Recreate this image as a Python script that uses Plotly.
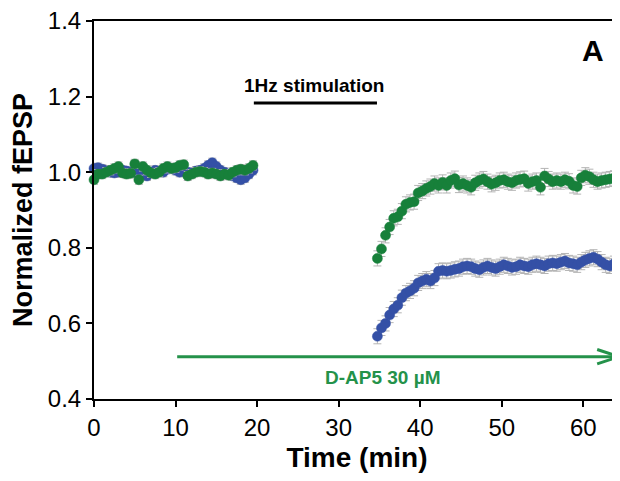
import plotly.graph_objects as go

# baseline (0-19.5 min, every 0.5 min)
t_base = [i * 0.5 for i in range(40)]
blue_base = [1.010, 1.012, 1.008, 1.005, 1.000, 0.998, 1.000, 1.005, 1.003, 1.000,
             0.998, 1.000, 0.995, 0.990, 1.000, 1.005, 1.002, 1.000, 1.008, 1.010,
             1.005, 1.000, 1.002, 1.000, 0.998, 1.003, 1.005, 1.010, 1.018, 1.025,
             1.015, 1.005, 1.000, 0.995, 0.990, 0.985, 0.980, 0.985, 0.995, 1.005]
green_base = [0.980, 0.995, 0.995, 1.000, 1.005, 1.010, 1.015, 0.998, 0.995, 0.997,
              1.022, 0.980, 1.015, 1.005, 0.998, 0.995, 1.000, 1.010, 1.015, 1.010,
              1.012, 1.018, 1.020, 0.990, 0.995, 1.000, 1.002, 1.000, 0.995, 0.998,
              0.995, 0.990, 0.995, 0.992, 1.000, 1.005, 1.008, 1.005, 1.010, 1.018]

# after stimulation (34.75-64.25 min, every 0.5 min)
t_post = [34.75 + i * 0.5 for i in range(60)]
blue_post = [0.566, 0.588, 0.600, 0.622, 0.638, 0.648, 0.668, 0.680, 0.686, 0.693,
             0.707, 0.712, 0.717, 0.712, 0.720, 0.738, 0.740, 0.738, 0.740, 0.743,
             0.745, 0.750, 0.752, 0.750, 0.745, 0.742, 0.748, 0.752, 0.748, 0.745,
             0.750, 0.755, 0.752, 0.748, 0.750, 0.755, 0.752, 0.750, 0.755, 0.758,
             0.755, 0.752, 0.758, 0.760, 0.758, 0.762, 0.765, 0.760, 0.758, 0.755,
             0.762, 0.768, 0.772, 0.775, 0.770, 0.762, 0.755, 0.752, 0.758, 0.755]
green_post = [0.772, 0.797, 0.833, 0.855, 0.878, 0.882, 0.897, 0.915, 0.920, 0.922,
              0.945, 0.950, 0.957, 0.962, 0.970, 0.965, 0.973, 0.965, 0.978, 0.983,
              0.966, 0.970, 0.965, 0.960, 0.972, 0.978, 0.982, 0.975, 0.968, 0.972,
              0.978, 0.980, 0.975, 0.972, 0.978, 0.981, 0.983, 0.970, 0.975, 0.978,
              0.960, 0.990, 0.982, 0.975, 0.978, 0.975, 0.980, 0.976, 0.965, 0.962,
              0.985, 0.992, 0.988, 0.980, 0.975, 0.978, 0.980, 0.982, 0.984, 0.985]

err_base = 0.012
err_post = 0.02

BLUE = "#3450a6"
GREEN = "#17803a"
ARROW = "#24924a"
FONT = "Arial, Liberation Sans, sans-serif"

fig = go.Figure()
for yb, yp, col in [(blue_base, blue_post, BLUE), (green_base, green_post, GREEN)]:
    fig.add_trace(go.Scatter(
        x=t_base + t_post, y=yb + yp, mode="markers",
        marker=dict(color=col, size=10, line=dict(width=0.5, color=col)),
        error_y=dict(type="data", array=[err_base] * len(yb) + [err_post] * len(yp),
                     color="#b4b4b4", thickness=1, width=4),
        cliponaxis=False, showlegend=False))

# stimulation bar
fig.add_shape(type="line", x0=19.6, x1=34.7, y0=1.183, y1=1.183,
              line=dict(color="black", width=3))
fig.add_annotation(x=27.0, y=1.23, text="<b>1Hz stimulation</b>", showarrow=False,
                   font=dict(family=FONT, size=19, color="black"))

# D-AP5 arrow
fig.add_shape(type="line", x0=10.2, x1=64.5, y0=0.512, y1=0.512,
              line=dict(color=ARROW, width=3))
fig.add_shape(type="path", path="M 61.7 0.531 L 64.4 0.512 L 61.7 0.493",
              line=dict(color=ARROW, width=3))
fig.add_annotation(x=35.4, y=0.458, text="<b>D-AP5 30 µM</b>", showarrow=False,
                   font=dict(family=FONT, size=19, color=ARROW))

fig.add_annotation(x=61.2, y=1.323, text="<b>A</b>", showarrow=False,
                   font=dict(family=FONT, size=30, color="black"))

fig.update_layout(
    width=612, height=473,
    margin=dict(l=86, r=0, t=13, b=82),
    plot_bgcolor="white", paper_bgcolor="white",
    font=dict(family=FONT, color="black"),
    xaxis=dict(range=[0, 64.5], tickvals=[0, 10, 20, 30, 40, 50, 60],
               showline=True, linecolor="black", linewidth=2, mirror=True,
               ticks="outside", ticklen=6, tickwidth=1.5, tickcolor="black",
               showgrid=False, zeroline=False, tickfont=dict(size=24),
               title=dict(text="<b>Time (min)</b>", font=dict(size=28), standoff=8)),
    yaxis=dict(range=[0.4, 1.4], tickvals=[0.4, 0.6, 0.8, 1.0, 1.2, 1.4],
               tickformat=".1f", ticklabeloverflow="allow",
               showline=True, linecolor="black", linewidth=2,
               ticks="outside", ticklen=6, tickwidth=1.5, tickcolor="black",
               showgrid=False, zeroline=False, tickfont=dict(size=24),
               title=dict(text="<b>Normalized fEPSP</b>", font=dict(size=27), standoff=8)),
)

fig.write_html("out.html")
